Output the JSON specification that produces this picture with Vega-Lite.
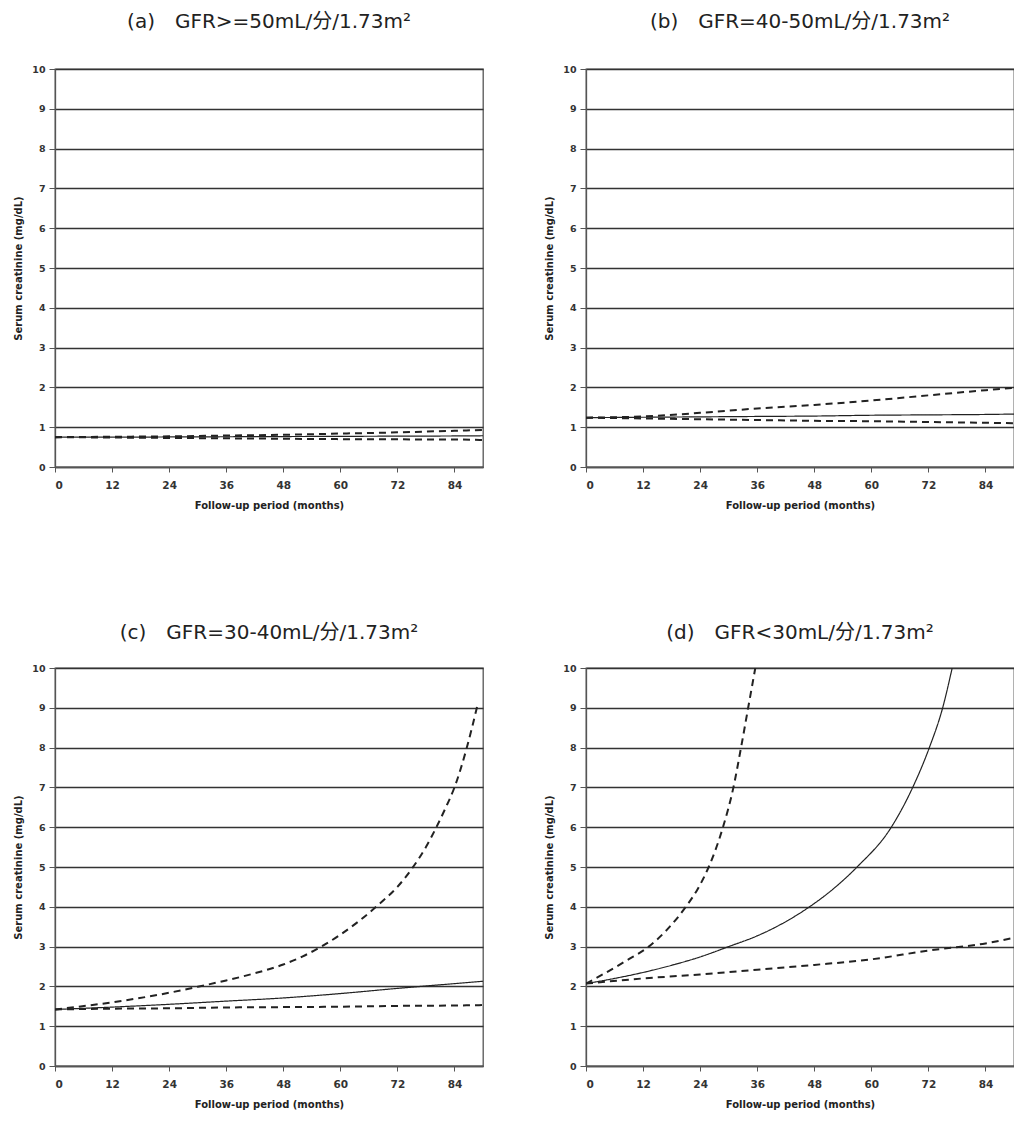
{
  "$schema": "https://vega.github.io/schema/vega-lite/v6.json",
  "background": "white",
  "padding": {"left": 13, "top": 11, "right": 0, "bottom": 0},
  "data": {"values": [
    {"panel":"a","series":"upper","month":0,"value":0.75},{"panel":"a","series":"upper","month":12,"value":0.76},{"panel":"a","series":"upper","month":24,"value":0.77},{"panel":"a","series":"upper","month":36,"value":0.79},{"panel":"a","series":"upper","month":48,"value":0.81},{"panel":"a","series":"upper","month":60,"value":0.84},{"panel":"a","series":"upper","month":72,"value":0.87},{"panel":"a","series":"upper","month":84,"value":0.91},{"panel":"a","series":"upper","month":90,"value":0.93},
    {"panel":"a","series":"median","month":0,"value":0.75},{"panel":"a","series":"median","month":12,"value":0.75},{"panel":"a","series":"median","month":24,"value":0.755},{"panel":"a","series":"median","month":36,"value":0.76},{"panel":"a","series":"median","month":48,"value":0.765},{"panel":"a","series":"median","month":60,"value":0.77},{"panel":"a","series":"median","month":72,"value":0.775},{"panel":"a","series":"median","month":84,"value":0.78},{"panel":"a","series":"median","month":90,"value":0.785},
    {"panel":"a","series":"lower","month":0,"value":0.75},{"panel":"a","series":"lower","month":12,"value":0.74},{"panel":"a","series":"lower","month":24,"value":0.73},{"panel":"a","series":"lower","month":36,"value":0.72},{"panel":"a","series":"lower","month":48,"value":0.71},{"panel":"a","series":"lower","month":60,"value":0.70},{"panel":"a","series":"lower","month":72,"value":0.695},{"panel":"a","series":"lower","month":84,"value":0.69},{"panel":"a","series":"lower","month":90,"value":0.68},

    {"panel":"b","series":"upper","month":0,"value":1.24},{"panel":"b","series":"upper","month":12,"value":1.27},{"panel":"b","series":"upper","month":24,"value":1.36},{"panel":"b","series":"upper","month":36,"value":1.47},{"panel":"b","series":"upper","month":48,"value":1.56},{"panel":"b","series":"upper","month":60,"value":1.67},{"panel":"b","series":"upper","month":72,"value":1.80},{"panel":"b","series":"upper","month":84,"value":1.93},{"panel":"b","series":"upper","month":90,"value":1.99},
    {"panel":"b","series":"median","month":0,"value":1.24},{"panel":"b","series":"median","month":12,"value":1.25},{"panel":"b","series":"median","month":24,"value":1.26},{"panel":"b","series":"median","month":36,"value":1.27},{"panel":"b","series":"median","month":48,"value":1.28},{"panel":"b","series":"median","month":60,"value":1.30},{"panel":"b","series":"median","month":72,"value":1.31},{"panel":"b","series":"median","month":84,"value":1.32},{"panel":"b","series":"median","month":90,"value":1.33},
    {"panel":"b","series":"lower","month":0,"value":1.24},{"panel":"b","series":"lower","month":12,"value":1.22},{"panel":"b","series":"lower","month":24,"value":1.20},{"panel":"b","series":"lower","month":36,"value":1.18},{"panel":"b","series":"lower","month":48,"value":1.16},{"panel":"b","series":"lower","month":60,"value":1.15},{"panel":"b","series":"lower","month":72,"value":1.13},{"panel":"b","series":"lower","month":84,"value":1.11},{"panel":"b","series":"lower","month":90,"value":1.10},

    {"panel":"c","series":"upper","month":0,"value":1.42},{"panel":"c","series":"upper","month":12,"value":1.6},{"panel":"c","series":"upper","month":24,"value":1.84},{"panel":"c","series":"upper","month":30,"value":1.99},{"panel":"c","series":"upper","month":36,"value":2.15},{"panel":"c","series":"upper","month":42,"value":2.33},{"panel":"c","series":"upper","month":48,"value":2.55},{"panel":"c","series":"upper","month":52,"value":2.75},{"panel":"c","series":"upper","month":56,"value":3.0},{"panel":"c","series":"upper","month":60,"value":3.3},{"panel":"c","series":"upper","month":64,"value":3.65},{"panel":"c","series":"upper","month":68,"value":4.05},{"panel":"c","series":"upper","month":72,"value":4.5},{"panel":"c","series":"upper","month":75,"value":4.95},{"panel":"c","series":"upper","month":78,"value":5.5},{"panel":"c","series":"upper","month":80.2,"value":6.0},{"panel":"c","series":"upper","month":82,"value":6.45},{"panel":"c","series":"upper","month":84,"value":7.0},{"panel":"c","series":"upper","month":86.6,"value":8.0},{"panel":"c","series":"upper","month":88.8,"value":9.05},
    {"panel":"c","series":"median","month":0,"value":1.42},{"panel":"c","series":"median","month":12,"value":1.48},{"panel":"c","series":"median","month":24,"value":1.55},{"panel":"c","series":"median","month":36,"value":1.63},{"panel":"c","series":"median","month":48,"value":1.71},{"panel":"c","series":"median","month":60,"value":1.82},{"panel":"c","series":"median","month":72,"value":1.95},{"panel":"c","series":"median","month":84,"value":2.07},{"panel":"c","series":"median","month":90,"value":2.13},
    {"panel":"c","series":"lower","month":0,"value":1.42},{"panel":"c","series":"lower","month":12,"value":1.44},{"panel":"c","series":"lower","month":24,"value":1.45},{"panel":"c","series":"lower","month":36,"value":1.47},{"panel":"c","series":"lower","month":48,"value":1.48},{"panel":"c","series":"lower","month":60,"value":1.49},{"panel":"c","series":"lower","month":72,"value":1.51},{"panel":"c","series":"lower","month":84,"value":1.52},{"panel":"c","series":"lower","month":90,"value":1.53},

    {"panel":"d","series":"upper","month":0,"value":2.07},{"panel":"d","series":"upper","month":3.5,"value":2.3},{"panel":"d","series":"upper","month":8.4,"value":2.64},{"panel":"d","series":"upper","month":13.2,"value":3.0},{"panel":"d","series":"upper","month":17,"value":3.42},{"panel":"d","series":"upper","month":21,"value":4.0},{"panel":"d","series":"upper","month":23.5,"value":4.45},{"panel":"d","series":"upper","month":25.8,"value":5.0},{"panel":"d","series":"upper","month":28.8,"value":6.0},{"panel":"d","series":"upper","month":31,"value":7.0},{"panel":"d","series":"upper","month":32.6,"value":8.0},{"panel":"d","series":"upper","month":34.1,"value":9.0},{"panel":"d","series":"upper","month":35.6,"value":10.0},
    {"panel":"d","series":"median","month":0,"value":2.07},{"panel":"d","series":"median","month":6,"value":2.2},{"panel":"d","series":"median","month":12,"value":2.35},{"panel":"d","series":"median","month":18,"value":2.53},{"panel":"d","series":"median","month":24,"value":2.74},{"panel":"d","series":"median","month":30,"value":3.0},{"panel":"d","series":"median","month":36,"value":3.27},{"panel":"d","series":"median","month":41,"value":3.56},{"panel":"d","series":"median","month":47,"value":4.0},{"panel":"d","series":"median","month":52,"value":4.45},{"panel":"d","series":"median","month":57,"value":5.0},{"panel":"d","series":"median","month":64.2,"value":6.0},{"panel":"d","series":"median","month":68.7,"value":7.0},{"panel":"d","series":"median","month":72.2,"value":8.0},{"panel":"d","series":"median","month":75,"value":9.0},{"panel":"d","series":"median","month":77,"value":10.0},
    {"panel":"d","series":"lower","month":0,"value":2.07},{"panel":"d","series":"lower","month":12,"value":2.2},{"panel":"d","series":"lower","month":24,"value":2.3},{"panel":"d","series":"lower","month":36,"value":2.42},{"panel":"d","series":"lower","month":48,"value":2.54},{"panel":"d","series":"lower","month":60,"value":2.68},{"panel":"d","series":"lower","month":72,"value":2.9},{"panel":"d","series":"lower","month":84,"value":3.08},{"panel":"d","series":"lower","month":90,"value":3.22}
  ]},
  "config": {
    "font": "DejaVu Sans",
    "view": {"stroke": "#555", "strokeWidth": 1.3},
    "title": {"font": "DejaVu Sans, Noto Sans CJK SC", "fontSize": 20, "fontWeight": "normal", "color": "#222"},
    "axis": {"labelFont": "DejaVu Sans", "labelFontWeight": "bold", "labelColor": "#333", "titleFont": "DejaVu Sans", "titleFontSize": 10, "titleFontWeight": "bold", "titleColor": "#222", "domainColor": "#555", "domainWidth": 1.3, "tickColor": "#555", "gridColor": "#333", "gridWidth": 1.3, "gridOpacity": 1},
    "axisY": {"titlePadding": 8, "labelPadding": 4, "tickSize": 6, "labelFontSize": 9.5},
    "axisX": {"titlePadding": 10, "labelPadding": 8, "tickSize": 5, "labelFontSize": 10.5}
  },
  "spacing": 110,
  "vconcat": [
    {"spacing": 60, "hconcat": [
      {"width": 428, "height": 398, "title": {"text": "(a)\u2003GFR>=50mL/分/1.73m²", "offset": 32},
       "transform": [{"filter": "datum.panel == 'a'"}],
       "mark": {"type": "line", "interpolate": "monotone", "color": "#222", "clip": true},
       "encoding": {
         "x": {"field": "month", "type": "quantitative", "scale": {"domain": [0, 90], "nice": false}, "axis": {"values": [0,12,24,36,48,60,72,84], "title": "Follow-up period (months)", "grid": false}},
         "y": {"field": "value", "type": "quantitative", "scale": {"domain": [0, 10], "nice": false}, "axis": {"values": [0,1,2,3,4,5,6,7,8,9,10], "title": "Serum creatinine (mg/dL)", "grid": true}},
         "strokeDash": {"field": "series", "type": "nominal", "scale": {"domain": ["lower","median","upper"], "range": [[7,5],[1,0],[7,5]]}, "legend": null},
         "strokeWidth": {"field": "series", "type": "nominal", "scale": {"type": "ordinal", "domain": ["lower","median","upper"], "range": [2,1.2,2]}, "legend": null}
       }},
      {"width": 428, "height": 398, "title": {"text": "(b)\u2003GFR=40-50mL/分/1.73m²", "offset": 32},
       "transform": [{"filter": "datum.panel == 'b'"}],
       "mark": {"type": "line", "interpolate": "monotone", "color": "#222", "clip": true},
       "encoding": {
         "x": {"field": "month", "type": "quantitative", "scale": {"domain": [0, 90], "nice": false}, "axis": {"values": [0,12,24,36,48,60,72,84], "title": "Follow-up period (months)", "grid": false}},
         "y": {"field": "value", "type": "quantitative", "scale": {"domain": [0, 10], "nice": false}, "axis": {"values": [0,1,2,3,4,5,6,7,8,9,10], "title": "Serum creatinine (mg/dL)", "grid": true}},
         "strokeDash": {"field": "series", "type": "nominal", "scale": {"domain": ["lower","median","upper"], "range": [[7,5],[1,0],[7,5]]}, "legend": null},
         "strokeWidth": {"field": "series", "type": "nominal", "scale": {"type": "ordinal", "domain": ["lower","median","upper"], "range": [2,1.2,2]}, "legend": null}
       }}
    ]},
    {"spacing": 60, "hconcat": [
      {"width": 428, "height": 398, "title": {"text": "(c)\u2003GFR=30-40mL/分/1.73m²", "offset": 20},
       "transform": [{"filter": "datum.panel == 'c'"}],
       "mark": {"type": "line", "interpolate": "monotone", "color": "#222", "clip": true},
       "encoding": {
         "x": {"field": "month", "type": "quantitative", "scale": {"domain": [0, 90], "nice": false}, "axis": {"values": [0,12,24,36,48,60,72,84], "title": "Follow-up period (months)", "grid": false}},
         "y": {"field": "value", "type": "quantitative", "scale": {"domain": [0, 10], "nice": false}, "axis": {"values": [0,1,2,3,4,5,6,7,8,9,10], "title": "Serum creatinine (mg/dL)", "grid": true}},
         "strokeDash": {"field": "series", "type": "nominal", "scale": {"domain": ["lower","median","upper"], "range": [[7,5],[1,0],[7,5]]}, "legend": null},
         "strokeWidth": {"field": "series", "type": "nominal", "scale": {"type": "ordinal", "domain": ["lower","median","upper"], "range": [2,1.2,2]}, "legend": null}
       }},
      {"width": 428, "height": 398, "title": {"text": "(d)\u2003GFR<30mL/分/1.73m²", "offset": 20},
       "transform": [{"filter": "datum.panel == 'd'"}],
       "mark": {"type": "line", "interpolate": "monotone", "color": "#222", "clip": true},
       "encoding": {
         "x": {"field": "month", "type": "quantitative", "scale": {"domain": [0, 90], "nice": false}, "axis": {"values": [0,12,24,36,48,60,72,84], "title": "Follow-up period (months)", "grid": false}},
         "y": {"field": "value", "type": "quantitative", "scale": {"domain": [0, 10], "nice": false}, "axis": {"values": [0,1,2,3,4,5,6,7,8,9,10], "title": "Serum creatinine (mg/dL)", "grid": true}},
         "strokeDash": {"field": "series", "type": "nominal", "scale": {"domain": ["lower","median","upper"], "range": [[7,5],[1,0],[7,5]]}, "legend": null},
         "strokeWidth": {"field": "series", "type": "nominal", "scale": {"type": "ordinal", "domain": ["lower","median","upper"], "range": [2,1.2,2]}, "legend": null}
       }}
    ]}
  ]
}
